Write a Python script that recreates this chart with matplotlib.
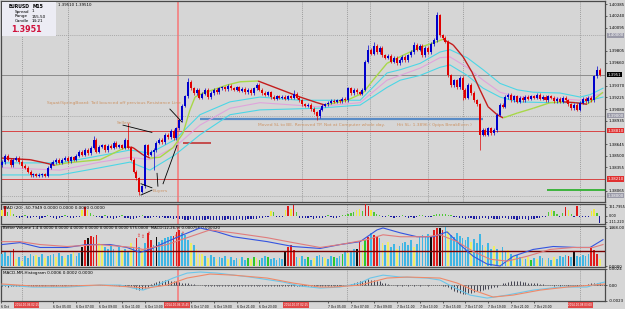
import matplotlib
matplotlib.use("Agg")
import matplotlib.pyplot as plt
import matplotlib.patches as patches
from matplotlib.collections import LineCollection
from matplotlib.transforms import blended_transform_factory
import numpy as np
import pandas as pd

W, H = 625, 309
BG = "#d6d6d6"

# EURUSD M15 bars, 6 Oct 2014 00:30 onwards
bar_times = pd.date_range("2014-10-06 00:30", periods=210, freq="15min")

closes = [
    1.3842, 1.3850, 1.3845, 1.3838, 1.3845, 1.3847, 1.3842, 1.3837, 1.3835, 1.3830,
    1.3826, 1.3827, 1.3825, 1.3826, 1.3827, 1.3825, 1.3835, 1.3840, 1.3842, 1.3845,
    1.3841, 1.3845, 1.3847, 1.3843, 1.3848, 1.3845, 1.3850, 1.3855, 1.3851, 1.3857,
    1.3853, 1.3860, 1.3870, 1.3855, 1.3861, 1.3863, 1.3857, 1.3862, 1.3860, 1.3866,
    1.3861, 1.3863, 1.3860, 1.3870, 1.3860, 1.3845, 1.3830, 1.3822, 1.3805, 1.3812,
    1.3863, 1.3851, 1.3855, 1.3857, 1.3866, 1.3870, 1.3867, 1.3876, 1.3873, 1.3881,
    1.3872, 1.3884, 1.3894, 1.3912, 1.3924, 1.3942, 1.3934, 1.3928, 1.3932, 1.3922,
    1.3927, 1.3932, 1.3923, 1.3928, 1.3932, 1.3929, 1.3934, 1.3935, 1.3933, 1.3937,
    1.3934, 1.3932, 1.3935, 1.3931, 1.3933, 1.3929, 1.3932, 1.3928, 1.3934, 1.3938,
    1.3932, 1.3928, 1.3926, 1.3929, 1.3923, 1.3921, 1.3924, 1.3922, 1.3923, 1.3921,
    1.3924, 1.3922, 1.3927, 1.3922, 1.3919, 1.3914, 1.3912, 1.3913, 1.3908, 1.3904,
    1.3899, 1.3907, 1.3912, 1.3914, 1.3916, 1.3918, 1.3917, 1.3919, 1.3918, 1.3921,
    1.3919, 1.3934, 1.3928, 1.3932, 1.3929, 1.3927, 1.3932, 1.3967, 1.3982, 1.3977,
    1.3987, 1.3979, 1.3984, 1.3975, 1.3972, 1.3974, 1.3967, 1.3972, 1.3965, 1.3969,
    1.3973, 1.3969, 1.3975, 1.3979, 1.3988, 1.3982, 1.3987, 1.3975, 1.3984, 1.3979,
    1.3989, 1.3994, 1.4025, 1.4000, 1.3997, 1.3992, 1.3950, 1.3938, 1.3944, 1.3935,
    1.3947, 1.3932, 1.3922, 1.3938, 1.3928, 1.3919, 1.3914, 1.3876, 1.3882, 1.3876,
    1.3884, 1.3878, 1.3882, 1.3901, 1.3913, 1.3911, 1.3923, 1.3926, 1.3919, 1.3924,
    1.3917, 1.3922, 1.3919, 1.3923, 1.3921, 1.3924, 1.3922, 1.3926, 1.3921, 1.3923,
    1.3919, 1.3924, 1.3922, 1.3918, 1.3921, 1.3917, 1.3922, 1.3919, 1.3914, 1.3909,
    1.3913, 1.3907, 1.3916, 1.3921, 1.3918, 1.3922, 1.3919, 1.3949, 1.3957, 1.3951,
]
first_open = 1.3838
long_highs = {32: 1.3875, 44: 1.3891, 65: 1.3947, 102: 1.3932, 128: 1.3988,
              130: 1.3992, 144: 1.3992, 152: 1.4029, 208: 1.3962}
long_lows = {48: 1.3801, 53: 1.3832, 110: 1.3895, 161: 1.3919, 167: 1.3857}

# slope-coloured moving average
ma_x = [0.0, 4.5, 9.8, 15.0, 18.5, 22.7, 34.3, 41.3, 43.7, 45.8, 49.3, 51.7, 55.2, 59.8,
        63.3, 65.7, 67.5, 70.3, 73.8, 78.7, 83.2, 89.5, 104.2, 110.1, 112.9, 120.6, 126.2,
        129.7, 134.6, 140.2, 146.2, 152.1, 154.2, 157.7, 161.2, 164.3, 167.1, 169.9, 173.1,
        175.2, 180.1, 185.7, 191.6, 196.2, 200.4, 204.5, 207.3, 210.1]
ma_y = [1.3847, 1.3846, 1.3845, 1.3841, 1.3838, 1.3841, 1.3845, 1.3857, 1.3861, 1.3860,
        1.3851, 1.3847, 1.3848, 1.3860, 1.3878, 1.3907, 1.3923, 1.3928, 1.3932, 1.3938,
        1.3942, 1.3943, 1.3923, 1.3916, 1.3913, 1.3919, 1.3928, 1.3944, 1.3965, 1.3975,
        1.3985, 1.3992, 1.3995, 1.3988, 1.3973, 1.3954, 1.3932, 1.3911, 1.3901, 1.3897,
        1.3903, 1.3909, 1.3916, 1.3917, 1.3916, 1.3914, 1.3921, 1.3929]

# envelope lines (upper cyan, middle pink, lower cyan)
up_x = [0.0, 20.3, 34.3, 44.8, 51.7, 60.5, 69.2, 79.7, 90.2, 104.2, 125.2, 134.6, 139.2,
        146.2, 153.1, 156.6, 162.6, 168.2, 174.1, 180.1, 185.7, 195.1, 202.1, 205.6, 210.1]
up_y = [1.3841, 1.3841, 1.3850, 1.3857, 1.3853, 1.3870, 1.3901, 1.3917, 1.3923, 1.3919,
        1.3919, 1.3953, 1.3957, 1.3965, 1.3979, 1.3982, 1.3972, 1.3957, 1.3940, 1.3932,
        1.3929, 1.3928, 1.3923, 1.3926, 1.3934]
env_x = [0.0, 20.3, 34.3, 44.8, 51.7, 60.5, 69.2, 79.7, 90.2, 110.1, 125.2, 134.6, 139.2,
         146.2, 153.1, 156.6, 162.6, 168.2, 174.1, 180.1, 191.6, 202.1, 210.1]
mid_y = [1.3835, 1.3832, 1.3842, 1.3848, 1.3845, 1.3861, 1.3888, 1.3909, 1.3916, 1.3911,
         1.3916, 1.3944, 1.3950, 1.3959, 1.3972, 1.3973, 1.3960, 1.3944, 1.3929, 1.3923,
         1.3922, 1.3919, 1.3928]
low_y = [1.3826, 1.3826, 1.3835, 1.3842, 1.3832, 1.3851, 1.3876, 1.3901, 1.3907, 1.3909,
         1.3913, 1.3935, 1.3944, 1.3950, 1.3960, 1.3963, 1.3950, 1.3934, 1.3923, 1.3917,
         1.3916, 1.3916, 1.3923]

price_ticks = [1.40385, 1.40240, 1.40095, 1.39805, 1.39660, 1.39370,
               1.39225, 1.39080, 1.38935, 1.38645, 1.38500, 1.38355, 1.38065]
current_price = 1.3951
round_levels = [1.4000, 1.3900, 1.3800]
red_levels = [1.3881, 1.3821]
be_level, be_from, be_to = 1.3896, 69.2, 168.2
short_red = (1.3866, 63.3, 73.1)
green_level = (1.3807, 190.6, 210.8)

vlines_all = [7.0, 120.6, 202.1]
vlines_main = [23.1, 104.9, 128.7, 149.0, 161.2]
red_vline = 61.5
# labels of the vertical lines on the time axis (bar position of the label box)
vline_labels = [(8.6, "2014.10.06 02:15"), (61.2, "2014.10.06 15:45"),
                (102.8, "2014.10.07 02:15"), (202.1, "2014.10.08 03:00")]

notes = [
    (15.7, 1.3916, "Squat/SpringBoard: Tail bounced off previous Resistance Line"),
    (40.2, 1.3891, "Sellers"),
    (52.8, 1.3806, "Buyers"),
    (89.5, 1.3888, "Moved SL to BE. Removed TP. Not at Computer whole day."),
    (138.1, 1.3888, "Hit SL: 1.3896 ( 0pips BreakEven )"),
]
note_lines = [
    ((42.3, 1.3888), (52.4, 1.3879)),
    ((58.7, 1.3908), (62.9, 1.3892)),
    ((52.4, 1.3810), (48.6, 1.3815)),
    ((52.4, 1.3807), (48.6, 1.3801)),
    ((54.5, 1.3812), (54.2, 1.3828)),
    ((56.3, 1.3815), (61.2, 1.3863)),
]

# WAD(20) sub-window
wad = [
    110, 170, 60, 120, 40, -30, -40, -20, 10, -35,
    -45, -30, -25, -50, -40, -20, 15, -30, -45, -55,
    -40, -30, 10, -25, -35, -45, -30, -20, 100, 160,
    110, 50, 20, -20, -30, -40, 10, -45, -35, -50,
    -40, -20, 15, -35, -45, -60, -50, -40, -30, 10,
    -35, -45, -40, -30, -25, -35, -30, -40, -35, -45,
    -50, -40, -55, -60, -70, -75, -65, -80, -70, -75,
    -85, -70, -65, -80, -75, -70, -85, -80, -70, -65,
    -75, -80, -70, -60, -75, -70, -65, -55, -60, -50,
    -45, -40, -30, -20, 90, 60, -20, -30, -20, 100,
    180, 130, 200, 60, -40, -40, -35, -45, -30, -50,
    -40, -35, -45, -25, 10, -30, -40, -35, -20, 10,
    20, 30, 50, 60, 100, 120, 80, 220, 170, 100,
    60, 40, 20, -20, -30, 10, -25, -35, -30, -20,
    10, -30, -40, -25, -35, -30, 10, 20, -20, -30,
    -25, 20, 30, 40, 30, 35, 20, 10, -20, -30,
    -40, -35, -50, -45, -40, -55, -50, -60, -45, -40,
    -50, -45, -55, -60, -50, -45, -40, -55, -50, -60,
    -70, -55, -50, -65, -75, -60, -50, -45, -40, -30,
    -20, 60, 100, 80, 40, -30, 50, 160, 110, 40,
    -20, 180, -30, -20, -25, -30, 90, 120, 50, -140,
]

# Better Volume sub-window
volume = [
    450, 525, 375, 565, 640, 265, 340, 190, 375, 300,
    450, 375, 415, 340, 450, 300, 375, 415, 450, 340,
    490, 375, 300, 415, 450, 525, 375, 490, 750, 1015,
    1090, 1165, 1130, 1200, 900, 825, 750, 675, 825, 640,
    565, 715, 600, 675, 565, 900, 715, 1090, 750, 640,
    900, 1280, 1015, 825, 1130, 940, 1015, 1090, 1130, 1165,
    1165, 1315, 1390, 1280, 1200, 1015, 900, 825, 640, 450,
    450, 375, 300, 415, 340, 265, 340, 300, 375, 265,
    340, 225, 300, 265, 340, 225, 300, 265, 340, 300,
    225, 300, 375, 340, 265, 300, 225, 300, 265, 525,
    715, 825, 600, 340, 300, 375, 265, 340, 225, 300,
    375, 415, 340, 300, 265, 375, 340, 300, 375, 450,
    525, 490, 565, 640, 640, 940, 825, 1015, 1130, 1280,
    1200, 1130, 1090, 900, 825, 940, 750, 865, 675, 790,
    900, 940, 825, 1015, 750, 865, 1130, 1200, 1130, 1240,
    1130, 1390, 1465, 1465, 1390, 1500, 1355, 1200, 1130, 1280,
    1165, 1090, 1015, 1130, 940, 1050, 900, 1240, 825, 750,
    900, 675, 790, 640, 565, 715, 525, 600, 450, 375,
    415, 340, 300, 265, 340, 225, 300, 265, 375, 300,
    225, 300, 225, 340, 265, 375, 340, 415, 375, 340,
    525, 375, 340, 415, 375, 450, 715, 600, 450, 265,
]
vol_class = "".join([
    "bbbbrybybb", "bbybbybbby", "bbybbybbkr", "krrryybbbb", "ybybbybrby",
    "brrbkbbbbb", "rrrbbbybyy", "ybybbybbby", "bbbybbgygy", "gbbgbbbbbk",
    "rrrbybbgby", "bbbybbgbbg", "bybbkrygrb", "rrbybybbyb", "bbbbybbbbb",
    "krrkrbybbb", "bbbbybbbby", "bbybybbyby", "bbybygbybb", "ybbybbbbrb",
    "kbbbbbrrry",
])
vol_avg = 575.0
vol_arrows = [(47.6, 1166), (49.0, 1130), (51.0, 1250), (60.5, 1130), (63.0, 1240)]

macd_x = [0.0, 6.3, 13.3, 22.7, 29.7, 37.8, 43.7, 48.3, 51.7, 57.7, 63.3, 69.2, 75.2,
          80.8, 92.7, 101.7, 111.2, 118.2, 125.2, 131.1, 133.2, 139.2, 145.1, 150.7,
          155.6, 160.1, 164.7, 169.6, 174.1, 178.7, 185.7, 192.7, 201.0, 205.6, 210.1]
macd_y = [0.00030, 0.00040, 0.00015, 0.00015, 0.00030, 0.00030, 0.00015, -0.00010,
          0.00005, 0.00045, 0.00080, 0.00115, 0.00095, 0.00070, 0.00045, 0.00020,
          0.00010, 0.00030, 0.00045, 0.00105, 0.00115, 0.00090, 0.00070, 0.00070,
          0.00095, 0.00030, -0.00030, -0.00070, -0.00080, -0.00030, 0.00005, 0.00020,
          0.00015, 0.00015, 0.00055]
signal_x = [0.0, 6.3, 13.3, 22.7, 34.3, 45.8, 49.3, 57.7, 64.7, 72.7, 80.8, 92.7, 101.7,
            111.2, 118.2, 127.6, 133.2, 139.2, 148.6, 153.1, 159.1, 164.7, 170.6, 176.6,
            183.6, 191.6, 199.6, 206.6, 210.1]
signal_y = [0.00045, 0.00045, 0.00030, 0.00020, 0.00030, 0.00015, 0.00005, 0.00030,
            0.00065, 0.00105, 0.00090, 0.00065, 0.00040, 0.00015, 0.00030, 0.00055,
            0.00080, 0.00070, 0.00070, 0.00080, 0.00045, -0.00005, -0.00045, -0.00055,
            -0.00030, 0.00005, 0.00015, 0.00015, 0.00030]

# MACD-MR-Histogram sub-window (histogram in units of 0.0001)
mr_hist = [
    -1, -1, -2, -1, -1, -1, -1, 0, -1, -1,
    -1, -1, -1, -1, -1, -1, 0, -1, -1, -1,
    0, -1, -1, 0, -1, 0, -1, 0, 0, 1,
    1, 1, 1, 1, 1, 0, 0, 1, 0, 0,
    0, -1, 0, -1, -1, -1, -3, -5, -7, -6,
    -4, -2, 2, 4, 5, 6, 7, 8, 8, 7,
    7, 6, 5, 4, 4, 3, 2, 2, 1, 1,
    0, -1, -1, -1, -1, -1, -1, -1, -1, -1,
    -1, -1, -1, -1, -1, -1, -1, -1, -1, -1,
    -1, -1, -1, -1, -1, -1, -1, -1, -1, -1,
    -1, -1, -1, -1, -1, -1, -1, -1, -1, -1,
    -1, -1, -1, -1, -1, -1, -1, -1, -1, 0,
    0, 1, 2, 3, 5, 6, 7, 8, 9, 8,
    8, 7, 6, 4, 3, 2, 1, 0, -1, 0,
    -1, 0, -1, 0, -1, 0, -1, 0, 0, -1,
    0, 1, 1, 0, -1, -1, -3, -6, -8, -10,
    -11, -12, -12, -11, -11, -10, -9, -8, -7, -6,
    -5, -4, -3, -2, 1, 3, 4, 5, 6, 6,
    6, 6, 5, 5, 4, 4, 3, 3, 2, 2,
    1, 0, 0, -1, 0, -1, 0, 0, -1, 0,
    0, -1, 0, 0, 1, 2, 3, 4, 4, 3,
]
mr_fast_x = [0.0, 10.8, 22.7, 34.3, 41.3, 45.8, 49.3, 54.2, 59.8, 64.7, 69.2, 75.2, 86.7,
             98.3, 104.2, 111.2, 118.2, 125.2, 128.7, 133.2, 139.2, 148.6, 153.1, 157.7,
             163.6, 169.6, 176.6, 185.7, 195.1, 204.5, 209.1, 210.8]
mr_fast_y = [0.00004, -0.00025, -0.00025, 0.00004, 0.00004, -0.0004, -0.0007, 0.00004,
             0.00107, 0.0018, 0.00196, 0.0018, 0.00122, 0.00049, -0.0001, -0.0004,
             -0.00025, 0.00034, 0.00107, 0.0015, 0.00122, 0.00107, 0.00078, -0.00025,
             -0.00143, -0.00187, -0.00143, -0.0007, -0.00025, -0.00025, 0.00034, 0.00049]
mr_slow_x = [0.0, 10.8, 22.7, 34.3, 45.8, 50.7, 57.7, 64.7, 72.7, 80.8, 92.7, 101.7, 111.2,
             115.7, 125.2, 134.6, 141.6, 153.1, 159.1, 164.7, 171.7, 178.7, 188.1, 197.6,
             206.6, 210.8]
mr_slow_y = [0.0002, -0.0001, -0.0001, 0.00004, -0.00025, -0.0004, 0.00004, 0.00107,
             0.00166, 0.0015, 0.00107, 0.00034, -0.00025, -0.00025, 0.00004, 0.00107,
             0.00122, 0.00107, 0.00034, -0.0007, -0.00172, -0.00143, -0.0007, -0.00025,
             0.00004, 0.0002]

# ---------------------------------------------------------------------------
fig = plt.figure(figsize=(W / 100, H / 100), dpi=100)
fig.patch.set_facecolor(BG)


def rect(x0, y0, x1, y1):
    return [x0 / W, 1 - y1 / H, (x1 - x0) / W, (y1 - y0) / H]


ax1 = fig.add_axes(rect(1, 1, 605, 202))
ax2 = fig.add_axes(rect(1, 204, 605, 224))
ax3 = fig.add_axes(rect(1, 226, 605, 267))
ax4 = fig.add_axes(rect(1, 269, 605, 301))
axes = [ax1, ax2, ax3, ax4]

n = len(closes)
x = np.arange(n)
for ax in axes:
    ax.set_facecolor(BG)
    ax.set_xlim(-0.35, 210.8)
    ax.yaxis.tick_right()
    ax.tick_params(axis="y", labelsize=2.8, length=1.5, width=0.4, pad=1)
    ax.tick_params(axis="x", labelsize=2.2, length=1.5, width=0.4, pad=1.5)
    for s in ax.spines.values():
        s.set_color("#4a4a4a")
        s.set_linewidth(0.9)
    for xv in vlines_all:
        ax.axvline(xv, color="#8a8a8a", lw=0.5, ls=(0, (1.5, 1.5)), zorder=1)
    ax.axvline(red_vline, color="#f08a8a", lw=1.4, zorder=1)
for ax in axes[:3]:
    ax.set_xticks([])

# ---- main price window ----
ax1.set_ylim(1.37923, 1.40426)
for xv in vlines_main:
    ax1.axvline(xv, color="#8a8a8a", lw=0.5, ls=(0, (1.5, 1.5)), zorder=1)
for lv in round_levels:
    ax1.axhline(lv, color="#9a9a9a", lw=0.5, ls=(0, (1.5, 1.5)), zorder=1)
ax1.axhline(current_price, color="#8c8c8c", lw=0.7, zorder=1)
for lv in red_levels:
    ax1.axhline(lv, color="#d84444", lw=0.7, zorder=1)
ax1.hlines(be_level, be_from, be_to, color="#5a8cc6", lw=1.6, zorder=2)
ax1.hlines(short_red[0], short_red[1], short_red[2], color="#c02828", lw=1.1, zorder=2)
ax1.hlines(green_level[0], green_level[1], green_level[2], color="#3cb43c", lw=1.4, zorder=2)

ax1.plot(up_x, up_y, color="#4cd6e6", lw=0.8, zorder=2)
ax1.plot(env_x, mid_y, color="#e0a4dc", lw=0.8, zorder=2)
ax1.plot(env_x, low_y, color="#4cd6e6", lw=0.8, zorder=2)

pts = np.column_stack([ma_x, ma_y])
segs = np.stack([pts[:-1], pts[1:]], axis=1)
seg_cols = ["#a8d848" if b > a else "#c41c1c" for a, b in zip(ma_y[:-1], ma_y[1:])]
ax1.add_collection(LineCollection(segs, colors=seg_cols, linewidths=1.0, zorder=3))

opens = [first_open] + closes[:-1]
highs = [long_highs.get(i, max(o, c) + 0.0002) for i, (o, c) in enumerate(zip(opens, closes))]
lows = [long_lows.get(i, min(o, c) - 0.0002) for i, (o, c) in enumerate(zip(opens, closes))]
cols = ["#0000cc" if c >= o else "#e00000" for o, c in zip(opens, closes)]
bottoms = np.minimum(opens, closes)
heights = np.maximum(np.abs(np.array(closes) - np.array(opens)), 0.00004)
ax1.vlines(x, lows, highs, colors=cols, lw=0.5, zorder=4)
ax1.bar(x, heights, bottom=bottoms, width=0.7, color=cols, lw=0, zorder=5)

for (xa, ya), (xb, yb) in note_lines:
    ax1.plot([xa, xb], [ya, yb], color="black", lw=0.6, zorder=6)
for xn, yn, txt in notes:
    ax1.text(xn, yn, txt, fontsize=3.2, color="#cc9466", va="center", ha="left", zorder=6)

ax1.set_yticks(price_ticks)
ax1.set_yticklabels([f"{v:.5f}" for v in price_ticks])

tr1 = blended_transform_factory(ax1.transAxes, ax1.transData)


def price_box(val, txt, fc):
    ax1.text(1.004, val, txt, transform=tr1, fontsize=2.8, color="white", va="center",
             ha="left", clip_on=False, zorder=10,
             bbox=dict(boxstyle="square,pad=0.15", fc=fc, ec="none"))


price_box(current_price, f"{current_price:.4f}", "black")
for lv in red_levels:
    price_box(lv, f"{lv:.5f}", "#e03030")
for lv in round_levels:
    price_box(lv, f"{lv:.5f}", "#9a9aa8")

# ---- WAD window ----
wad_cols = ["#e01818" if v >= 150 else "#ecec40" if v >= 90 else "#50c838" if v > 0
            else "#1c1ca0" for v in wad]
ax2.bar(x, wad, width=0.45, color=wad_cols, lw=0, zorder=3)
ax2.set_ylim(-150, 215)
ax2.set_yticks([161.7955, 0, -111.22])
ax2.set_yticklabels(["161.7955", "0.00", "-111.220"])
ax2.tick_params(axis="y", labelsize=2.5)
ax2.text(0.004, 0.82, "WAD (20) -50.7949 0.0000 0.0000 0.0000 0.0000",
         transform=ax2.transAxes, fontsize=3, va="center")

# ---- Better Volume + MACD window ----
vcolor = {"b": "#3fb6e4", "y": "#eeee66", "r": "#e01c1c", "k": "#101010", "g": "#2ec82e"}
ax3.bar(x, volume, width=0.6, color=[vcolor[c] for c in vol_class], lw=0, zorder=3)
ax3.axhline(vol_avg, color="#7a0000", lw=1.0, zorder=4)
ax3.set_ylim(-38, 1543)
ax3.set_yticks([1468, 0])
ax3.set_yticklabels(["1468.00", "0.0000"])
for xa, va in vol_arrows:
    ax3.text(xa, va, "\u21e7", fontsize=3.4, color="#e01c1c", ha="center", va="center", zorder=6)
ax3.text(0.004, 0.945, "Better Volume 1.4 0.0000 0.0000 4.0000 0.0000 0.0000 0.0000 575.0000"
         "  MACD(12,26,9) 0.000756 0.000320", transform=ax3.transAxes, fontsize=2.8,
         va="center", zorder=7)

ax3m = fig.add_axes(rect(1, 226, 605, 267))
ax3m.set_axis_off()
ax3m.set_xlim(-0.35, 210.8)
ax3m.set_ylim(-0.00085, 0.00125)
ax3m.plot(macd_x, macd_y, color="#3454e0", lw=0.8)
ax3m.plot(signal_x, signal_y, color="#e07c7c", lw=0.8)

# ---- MACD-MR histogram window ----
ax4.vlines(x, 0, np.array(mr_hist) * 1e-4, colors="#2a2a3a", lw=0.6, zorder=3)
ax4.axhline(0, color="#505050", lw=0.5, ls=(0, (2, 1)), zorder=2)
ax4.plot(mr_fast_x, mr_fast_y, color="#6cc6ea", lw=0.8, zorder=4)
ax4.plot(mr_slow_x, mr_slow_y, color="#ef8a6a", lw=0.8, zorder=4)
ax4.set_ylim(-0.0023, 0.0024)
ax4.set_yticks([0.0024, 0, -0.0023])
ax4.set_yticklabels(["0.0024", "0.00", "-0.0023"])
ax4.text(0.004, 0.86, "MACD-MR-Histogram 0.0006 0.0002 0.0000",
         transform=ax4.transAxes, fontsize=3, va="center")

# time labels every two hours; the ones hidden under the red line labels are skipped
box_centres = [c for c, _ in vline_labels]
tick_idx = [-0.3] + [t for t in range(10, n, 8)
                     if not any(c - 10 < t < c + 4.5 for c in box_centres)]
tick_lab = ["6 Oct"] + [f"{t.day} {t:%b %H:%M}" for t in bar_times[tick_idx[1:]]]
ax4.set_xticks(tick_idx)
ax4.set_xticklabels(tick_lab, ha="left")
tr4 = blended_transform_factory(ax4.transData, ax4.transAxes)
for xv, txt in vline_labels:
    ax4.text(xv, -0.13, txt, transform=tr4, fontsize=2.0, color="white", ha="center",
             va="center", clip_on=False, zorder=10,
             bbox=dict(boxstyle="square,pad=0.25", fc="#e04848", ec="none"))

# ---- info panel, top left ----
fig.add_artist(patches.Rectangle((2 / W, 1 - 36 / H), 54 / W, 34 / H,
                                 transform=fig.transFigure, fc="#ececf4", ec="none",
                                 zorder=20))


def ftext(xp, yp, s, **kw):
    fig.text(xp / W, 1 - yp / H, s, va="center", zorder=21, **kw)


ftext(9, 6, "EURUSD", fontsize=3.3, weight="bold")
ftext(33, 6, "M15", fontsize=3.3, weight="bold")
ftext(15, 11.5, "Spread", fontsize=3.0)
ftext(32, 11.5, "1", fontsize=3.0)
ftext(15, 16.5, "Range", fontsize=3.0)
ftext(32, 16.5, "155.50", fontsize=3.0)
ftext(15, 21.5, "Candle", fontsize=3.0)
ftext(32, 21.5, "14:21", fontsize=3.0)
ftext(11, 29.5, "1.3951", fontsize=5.8, weight="bold", color="#d0103a")
ftext(58, 5, "1.39510 1.39510", fontsize=2.8)

fig.savefig("out.png", dpi=100, facecolor=BG)
